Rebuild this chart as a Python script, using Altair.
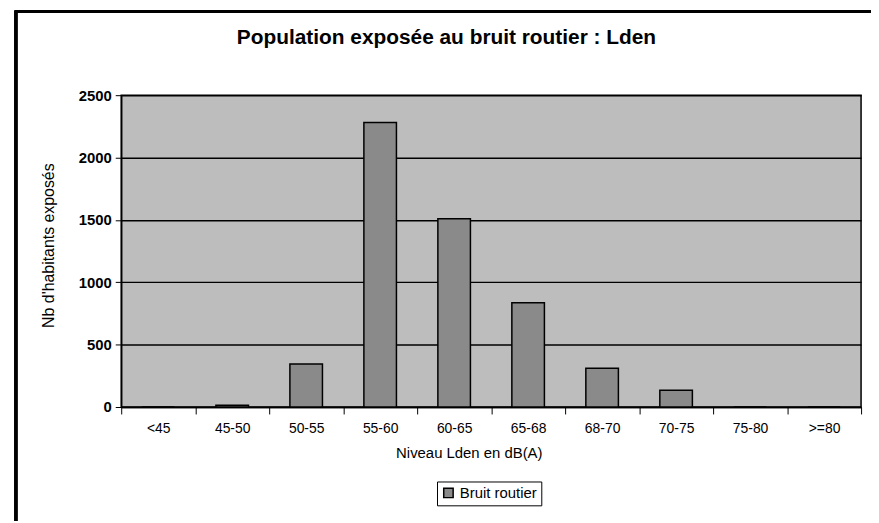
import altair as alt
import pandas as pd

categories = ["<45", "45-50", "50-55", "55-60", "60-65", "65-68", "68-70", "70-75", "75-80", ">=80"]
values = [0, 15, 345, 2280, 1510, 835, 310, 135, 0, 0]
series = "Bruit routier"

df = pd.DataFrame({"niveau": categories, "nb": values, "serie": [series] * len(categories)})

FONT = "Liberation Sans"

bars = alt.Chart(df).mark_bar(
    width={"band": 0.44}, stroke="black", strokeWidth=1.5
).encode(
    x=alt.X("niveau:N", sort=categories,
            scale=alt.Scale(paddingInner=0, paddingOuter=0),
            axis=alt.Axis(title="Niveau Lden en dB(A)", labelAngle=0, tickBand="extent",
                          domainColor="black", domainWidth=1.5, tickColor="black", tickSize=7,
                          labelPadding=8, labelFontSize=14, labelColor="black", labelFont=FONT,
                          titleFont=FONT, titleFontSize=15, titleFontWeight="normal",
                          titleColor="black", titleX=350, titleY=46, titleBaseline="middle",
                          titleAnchor="middle", grid=False)),
    y=alt.Y("nb:Q", scale=alt.Scale(domain=[0, 2500]),
            axis=alt.Axis(title="Nb d'habitants exposés", values=[0, 500, 1000, 1500, 2000, 2500],
                          format="d", domainColor="black", domainWidth=1.5, tickColor="black",
                          tickSize=6, labelPadding=4, labelFontSize=15, labelColor="black",
                          labelFont=FONT, labelFontWeight="bold", titleFont=FONT, titleFontSize=16,
                          titleFontWeight="normal", titleColor="black", titleX=-73, titleY=151,
                          titleBaseline="middle", grid=True, gridColor="black", gridWidth=1.5)),
    color=alt.Color("serie:N", scale=alt.Scale(range=["#8a8a8a"]),
                    legend=alt.Legend(title=None, orient="none", legendX=318, legendY=389,
                                      strokeColor="black", padding=4, symbolType="square",
                                      symbolSize=90, symbolStrokeColor="black", symbolStrokeWidth=1.5,
                                      labelFont=FONT, labelFontSize=15, labelColor="black",
                                      fillColor="white")),
)

frame = alt.Chart(df).mark_rect(fillOpacity=0, stroke="black", strokeWidth=2.5).encode(
    x=alt.value(-106), x2=alt.value(770), y=alt.value(-84), y2=alt.value(440)
)

chart = alt.layer(bars, frame).properties(
    width=745, height=314,
    padding={"left": 114, "top": 86, "right": 10, "bottom": 113},
    autosize=alt.AutoSizeParams(type="none"),
    background="white",
    title=alt.Title("Population exposée au bruit routier : Lden", font=FONT, fontSize=21,
                    fontWeight="bold", color="black", anchor="middle", frame="group",
                    dx=-45, offset=-38),
).configure_view(
    fill="#bdbdbd", stroke="black", strokeWidth=1.5
)

chart.save("out.html", embed_options={"renderer": "svg", "actions": False})
